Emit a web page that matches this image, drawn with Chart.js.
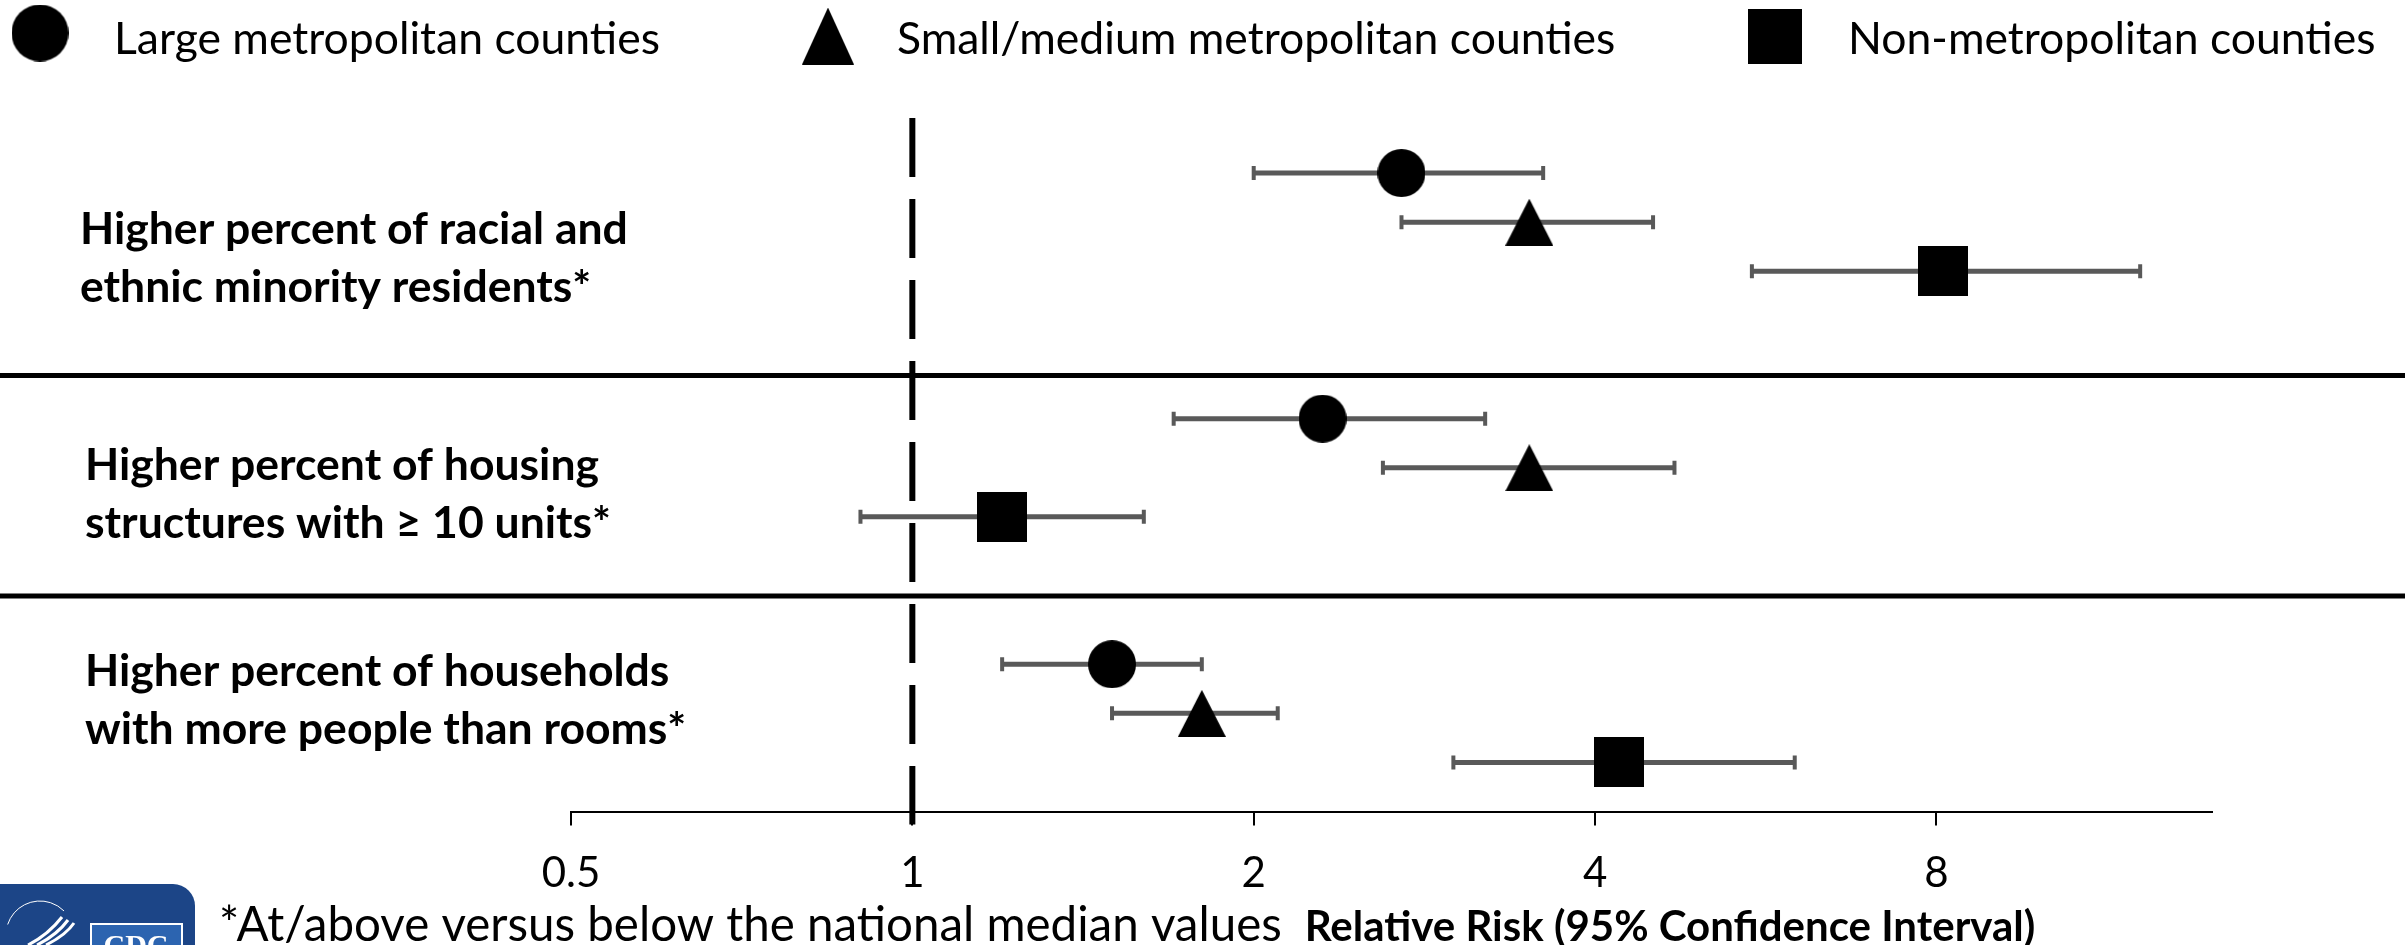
<!DOCTYPE html>
<html lang="en">
<head>
<meta charset="UTF-8">
<title>Relative risk by county type</title>
<script src="https://cdn.jsdelivr.net/npm/chart.js"></script>
<style>
  html, body { margin: 0; padding: 0; background: #fff; }
  #chart { display: block; }
</style>
</head>
<body>
<canvas id="chart" width="2405" height="945"></canvas>
<script>
// ---- data ----
const categories = [
  ['Higher percent of racial and', 'ethnic minority residents*'],
  ['Higher percent of housing', 'structures with \u2265 10 units*'],
  ['Higher percent of households', 'with more people than rooms*']
];
const seriesNames = ['Large metropolitan counties', 'Small/medium metropolitan counties', 'Non-metropolitan counties'];

const largeMetroRR = [2.7, 2.3, 1.5];
const largeMetroLow = [2.0, 1.7, 1.2];
const largeMetroHigh = [3.6, 3.2, 1.8];

const smallMetroRR = [3.5, 3.5, 1.8];
const smallMetroLow = [2.7, 2.6, 1.5];
const smallMetroHigh = [4.5, 4.7, 2.1];

const nonMetroRR = [8.1, 1.2, 4.2];
const nonMetroLow = [5.5, 0.9, 3.0];
const nonMetroHigh = [12.1, 1.6, 6.0];

const tickValues = [0.5, 1, 2, 4, 8];
const tickLabels = ['0.5', '1', '2', '4', '8'];
const xTitle = 'Relative Risk (95% Confidence Interval)';
const footnote = '*At/above versus below the national median values';

const seriesRR = [largeMetroRR, smallMetroRR, nonMetroRR];
const seriesLow = [largeMetroLow, smallMetroLow, nonMetroLow];
const seriesHigh = [largeMetroHigh, smallMetroHigh, nonMetroHigh];

// ---- marker images ----
function marker(shape, w, h) {
  const c = document.createElement('canvas');
  c.width = w;
  c.height = h;
  const g = c.getContext('2d');
  g.fillStyle = '#000';
  g.beginPath();
  if (shape === 'circle') {
    g.ellipse(w / 2, h / 2, w / 2, h / 2, 0, 0, Math.PI * 2);
  } else if (shape === 'triangle') {
    g.moveTo(w / 2, 0);
    g.lineTo(w, h);
    g.lineTo(0, h);
    g.closePath();
  } else {
    g.rect(0, 0, w, h);
  }
  g.fill();
  return c;
}
const plotMarkers = [marker('circle', 48, 48), marker('triangle', 48, 47), marker('rect', 50, 50)];
const legendMarkers = [marker('circle', 57, 57), marker('triangle', 52, 57), marker('rect', 54, 55)];

const FONT = 'Lato, "Open Sans", sans-serif';

const decor = {
  id: 'decor',
  beforeDatasetsDraw(chart) {
    const { ctx, chartArea, scales: { x, y } } = chart;
    ctx.save();

    // group separators across the whole figure
    ctx.strokeStyle = '#000';
    ctx.lineWidth = 5;
    [4.12, 8.61].forEach(v => {
      const py = y.getPixelForValue(v);
      ctx.beginPath();
      ctx.moveTo(0, py);
      ctx.lineTo(chart.width, py);
      ctx.stroke();
    });

    // null line at RR = 1
    const px = x.getPixelForValue(1);
    ctx.lineWidth = 6;
    ctx.setLineDash([59, 22]);
    ctx.beginPath();
    ctx.moveTo(px, chartArea.top);
    ctx.lineTo(px, chartArea.bottom + 13);
    ctx.stroke();
    ctx.setLineDash([]);

    // confidence intervals
    ctx.strokeStyle = '#595959';
    chart.data.datasets.forEach(ds => {
      ds.data.forEach(p => {
        const py = y.getPixelForValue(p.y);
        const x0 = x.getPixelForValue(p.lo);
        const x1 = x.getPixelForValue(p.hi);
        ctx.lineWidth = 5;
        ctx.beginPath();
        ctx.moveTo(x0, py);
        ctx.lineTo(x1, py);
        ctx.stroke();
        ctx.lineWidth = 4;
        ctx.beginPath();
        ctx.moveTo(x0, py - 7);
        ctx.lineTo(x0, py + 7);
        ctx.moveTo(x1, py - 7);
        ctx.lineTo(x1, py + 7);
        ctx.stroke();
      });
    });
    ctx.restore();
  },
  afterDraw(chart) {
    const { ctx, scales: { y } } = chart;
    ctx.save();
    ctx.fillStyle = '#000';
    ctx.textBaseline = 'alphabetic';

    // legend
    const markX = [40, 828, 1775];
    const markY = [33, 36, 36];
    const textX = [114, 897, 1848];
    ctx.font = '44.5px ' + FONT;
    seriesNames.forEach((name, i) => {
      const m = legendMarkers[i];
      ctx.drawImage(m, markX[i] - m.width / 2, markY[i] - m.height / 2);
      ctx.fillText(name, textX[i], 54);
    });

    // category labels
    const labelShift = [22, 12, -27];
    const labelX = [80, 85, 85];
    ctx.font = 'bold 44.5px ' + FONT;
    categories.forEach((lines, g) => {
      const base = y.getPixelForValue(g * 5 + 1) + labelShift[g];
      lines.forEach((t, k) => ctx.fillText(t, labelX[g], base + k * 58));
    });

    // axis title and footnote
    ctx.textAlign = 'center';
    ctx.font = 'bold 42px ' + FONT;
    ctx.fillText(xTitle, 1670, 941);
    ctx.textAlign = 'left';
    ctx.font = '47.5px ' + FONT;
    ctx.fillText(footnote, 219, 941);

    // logo block, bottom-left
    ctx.fillStyle = '#1c4587';
    ctx.beginPath();
    ctx.moveTo(0, 884);
    ctx.lineTo(173, 884);
    ctx.arcTo(195, 884, 195, 906, 22);
    ctx.lineTo(195, 945);
    ctx.lineTo(0, 945);
    ctx.closePath();
    ctx.fill();
    ctx.strokeStyle = '#fff';
    ctx.lineWidth = 3;
    for (let k = 0; k < 3; k++) {
      ctx.beginPath();
      ctx.moveTo(28 + k * 9, 945);
      ctx.quadraticCurveTo(48 + k * 9, 935, 62 + k * 6, 917 + k * 3);
      ctx.stroke();
    }
    ctx.lineWidth = 1;
    ctx.beginPath();
    ctx.arc(40, 935, 34, Math.PI * 1.1, Math.PI * 1.75);
    ctx.stroke();
    ctx.fillStyle = '#2c64b0';
    ctx.fillRect(91, 924, 91, 24);
    ctx.strokeStyle = '#fff';
    ctx.lineWidth = 2;
    ctx.strokeRect(91, 924, 91, 24);
    ctx.fillStyle = '#fff';
    ctx.font = 'bold 30px "Liberation Serif", serif';
    ctx.textAlign = 'center';
    ctx.fillText('CDC', 136, 955);
    ctx.restore();
  }
};

new Chart(document.getElementById('chart'), {
  type: 'scatter',
  data: {
    datasets: seriesNames.map((name, s) => ({
      label: name,
      data: categories.map((c, g) => ({
        x: seriesRR[s][g],
        y: g * 5 + s,
        lo: seriesLow[s][g],
        hi: seriesHigh[s][g]
      })),
      pointStyle: plotMarkers[s],
      pointRadius: 25,
      pointHoverRadius: 25,
      backgroundColor: '#000',
      borderColor: '#000'
    }))
  },
  options: {
    responsive: false,
    animation: false,
    layout: { padding: { left: 571, right: 193, top: 118, bottom: 23 } },
    plugins: {
      legend: { display: false },
      tooltip: { enabled: false }
    },
    scales: {
      x: {
        type: 'logarithmic',
        min: 0.5,
        max: 14,
        afterBuildTicks: axis => {
          axis.ticks = tickValues.map(v => ({ value: v }));
        },
        ticks: {
          callback: (v) => tickLabels[tickValues.indexOf(v)],
          color: '#000',
          padding: 23,
          maxRotation: 0,
          autoSkip: false,
          font: { family: FONT, size: 42 }
        },
        grid: {
          drawOnChartArea: false,
          drawTicks: true,
          tickLength: 14,
          color: '#000',
          lineWidth: 2
        },
        border: { display: true, color: '#000', width: 2 }
      },
      y: {
        type: 'linear',
        reverse: true,
        min: -1.12,
        max: 13,
        display: false
      }
    }
  },
  plugins: [decor]
});
</script>
</body>
</html>
